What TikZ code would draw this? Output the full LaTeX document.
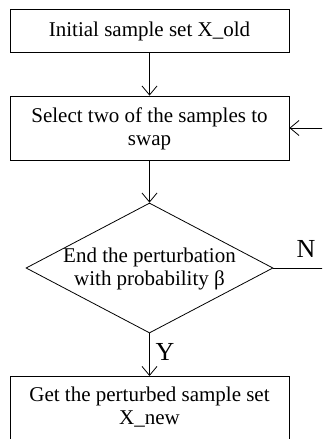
\documentclass[tikz,border=0pt]{standalone}
\usepackage{fontspec}
\setmainfont{Liberation Serif}
\usetikzlibrary{arrows.meta,shapes.geometric}
\begin{document}
\begin{tikzpicture}[x=1pt,y=-1pt,
  every node/.style={font=\fontsize{21}{23}\selectfont},
  procbox/.style={draw,line width=0.8pt,minimum width=279pt,inner sep=0pt,align=center},
  flow/.style={draw,line width=0.8pt,-{Straight Barb[length=9pt,width=15pt]}},
  lbl/.style={font=\fontsize{26}{30}\selectfont,inner sep=0pt}]
\useasboundingbox (0,0) rectangle (322,439);
\clip (0,0) rectangle (322,439);
\node[procbox,minimum height=43pt] (b1) at (149.5,30.5) {};
\node[inner sep=0pt] (b1t) at (149.5,31.5) {Initial sample set X\_old};
\node[procbox,minimum height=64pt] (b2) at (149.5,128) {};
\node[align=center,inner sep=0pt] (b2t) at (149.5,128.5) {Select two of the samples to\\swap};
\node[draw,shape=diamond,line width=0.8pt,inner sep=0pt,minimum width=247pt,minimum height=130pt] (d) at (149.5,268) {};
\node[align=center,inner sep=0pt] (dt) at (149.5,268.6) {End the perturbation\\with probability β};
\node[procbox,minimum height=80pt,anchor=north] (b3) at (149.5,376) {};
\node[align=center,inner sep=0pt] (b3t) at (149.5,407.5) {Get the perturbed sample set\\X\_new};
\coordinate (loopR) at (340,268);
\coordinate (loopT) at (340,128);
\path[flow] (b1.south) -- (b2.north);
\path[flow] (b2.south) -- (d.north);
\path[flow] (d.south) -- (b3.north);
\path[flow] (d.east) -- (loopR) -- (loopT) -- (b2.east);
\node[lbl] (ylab) at (165,352) {Y};
\node[lbl] (nlab) at (306,249) {N};
\end{tikzpicture}
\end{document}
